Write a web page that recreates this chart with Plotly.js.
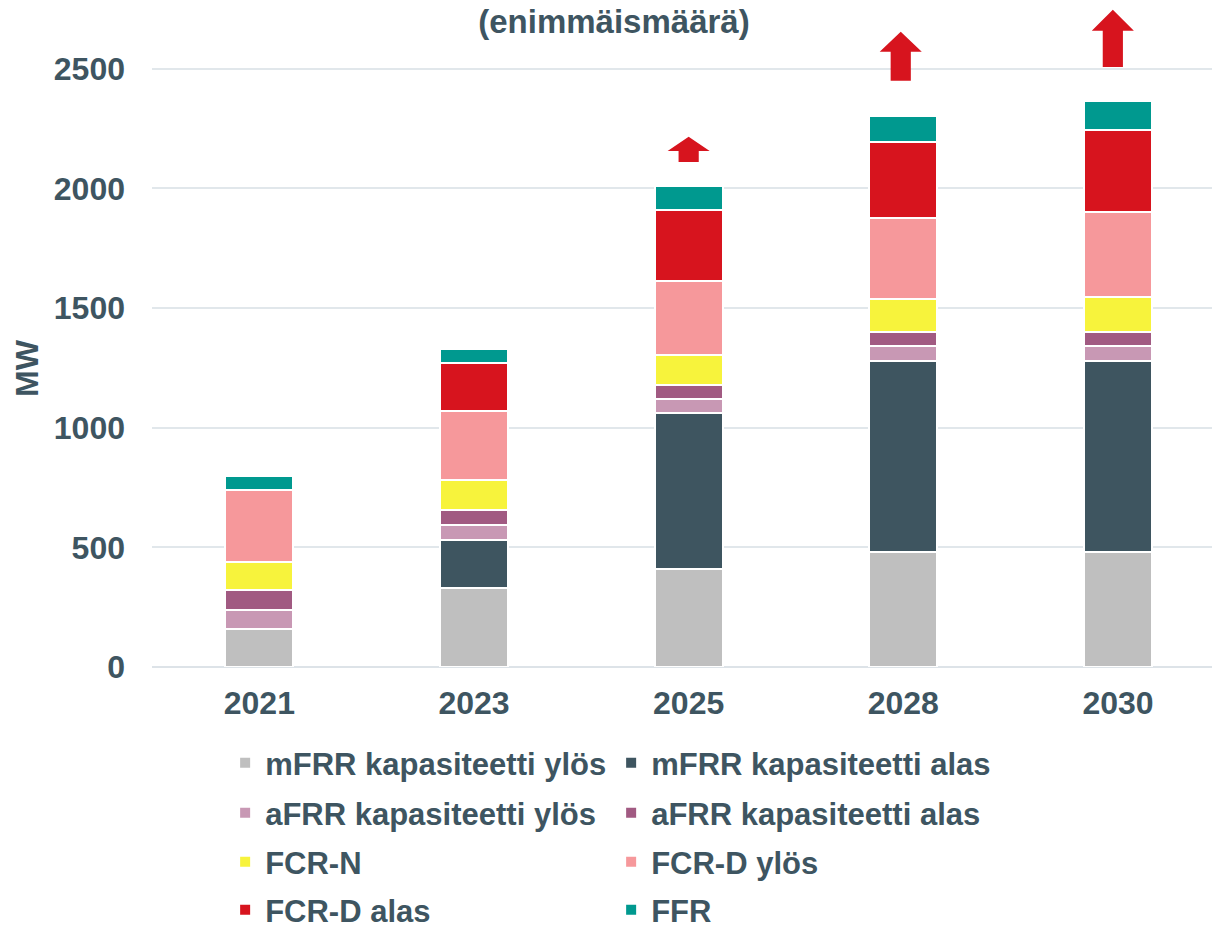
<!DOCTYPE html>
<html><head><meta charset="utf-8">
<script src="https://cdn.plot.ly/plotly-3.0.1.min.js"></script>
<style>html,body{margin:0;padding:0;background:#fff}</style>
</head><body><div id="chart" style="width:1212px;height:931px"></div>
<script>
// ---- data ----
const years = ['2021', '2023', '2025', '2028', '2030'];
const seriesNames = ['mFRR kapasiteetti ylös', 'mFRR kapasiteetti alas', 'aFRR kapasiteetti ylös',
  'aFRR kapasiteetti alas', 'FCR-N', 'FCR-D ylös', 'FCR-D alas', 'FFR'];
const mfrrUp   = [160, 330, 410, 480, 480];
const mfrrDown = [0, 200, 650, 800, 800];
const afrrUp   = [80, 65, 60, 60, 60];
const afrrDown = [80, 60, 60, 60, 60];
const fcrN     = [120, 125, 125, 140, 145];
const fcrDUp   = [300, 290, 310, 335, 355];
const fcrDDown = [0, 200, 295, 320, 345];
const ffr      = [60, 60, 100, 110, 120];
const seriesColors = ['#bfbfbf', '#3e5560', '#c898b4', '#a15a82', '#f7f33c', '#f6989b', '#d7141e', '#00998f'];
// arrows above bars (MW levels: base, head base, tip)
const arrowYears = ['2025', '2028', '2030'];
const arrowBase  = [2111, 2450, 2508];
const arrowNeck  = [2157, 2571, 2659];
const arrowTip   = [2216, 2655, 2747];
const yTitle = 'MW';
const chartTitle = '(enimmäismäärä)';

const allSeries = [mfrrUp, mfrrDown, afrrUp, afrrDown, fcrN, fcrDUp, fcrDDown, ffr];
const legendIds = ['legend', 'legend', 'legend2', 'legend2', 'legend3', 'legend3', 'legend4', 'legend4'];

const textColor = '#3e5561';
const fontFam = '"Liberation Sans", Arial, sans-serif';

const traces = allSeries.map((vals, i) => ({
  type: 'bar',
  name: seriesNames[i],
  x: years,
  y: vals,
  legend: legendIds[i],
  marker: { color: seriesColors[i], line: { color: '#ffffff', width: 2 } },
  hovertemplate: '%{x}: %{y} MW<extra>' + seriesNames[i] + '</extra>'
}));

const hw = 0.098, sw = 0.047;
const shapes = arrowYears.map((yr, i) => {
  const xi = years.indexOf(yr) - 0.012 * i;
  return {
    type: 'path', xref: 'x', yref: 'y', layer: 'above',
    path: `M ${xi - sw},${arrowBase[i]} L ${xi - sw},${arrowNeck[i]} L ${xi - hw},${arrowNeck[i]} L ${xi},${arrowTip[i]} L ${xi + hw},${arrowNeck[i]} L ${xi + sw},${arrowNeck[i]} L ${xi + sw},${arrowBase[i]} Z`,
    fillcolor: '#d7141e', line: { width: 0 }
  };
});

const legFont = { family: fontFam, size: 31, weight: 700, color: textColor };
function leg(y) {
  return { orientation: 'h', x: 0.069, xanchor: 'left', y: y, yanchor: 'middle',
    entrywidth: 341, entrywidthmode: 'pixels', font: legFont, traceorder: 'normal',
    bgcolor: 'rgba(0,0,0,0)' };
}

const layout = {
  width: 1212, height: 931,
  paper_bgcolor: '#ffffff', plot_bgcolor: '#ffffff',
  margin: { l: 152, r: 0, t: 4, b: 264, autoexpand: false },
  barmode: 'stack', bargap: 0.683,
  font: { family: fontFam, color: textColor },
  title: { text: chartTitle, font: { family: fontFam, size: 33, weight: 700, color: textColor },
    x: 0.5066, xanchor: 'center', xref: 'container', y: 0.9774, yanchor: 'middle', yref: 'container' },
  xaxis: { type: 'category', range: [-0.5, 4.438], showgrid: false, showline: false, ticks: '',
    tickfont: { family: fontFam, size: 32, weight: 700, color: textColor }, ticklabelstandoff: 14,
    automargin: false, fixedrange: true },
  yaxis: { range: [0, 2771], tick0: 0, dtick: 500, showline: false, ticks: '',
    gridcolor: '#e1e7eb', gridwidth: 1.5, zeroline: true, zerolinecolor: '#dde3e8', zerolinewidth: 2,
    tickfont: { family: fontFam, size: 32, weight: 700, color: textColor }, ticklabelstandoff: 26,
    automargin: false, fixedrange: true },
  annotations: [{
    text: yTitle, textangle: -90, xref: 'paper', yref: 'y', x: -0.1179, y: 1250,
    xanchor: 'center', yanchor: 'middle', showarrow: false,
    font: { family: fontFam, size: 32, weight: 700, color: textColor }
  }],
  shapes: shapes,
  legend: leg(-0.1448),
  legend2: leg(-0.2202),
  legend3: leg(-0.2941),
  legend4: leg(-0.3665)
};

Plotly.newPlot('chart', traces, layout, { displayModeBar: false, responsive: false });
</script>
</body></html>
